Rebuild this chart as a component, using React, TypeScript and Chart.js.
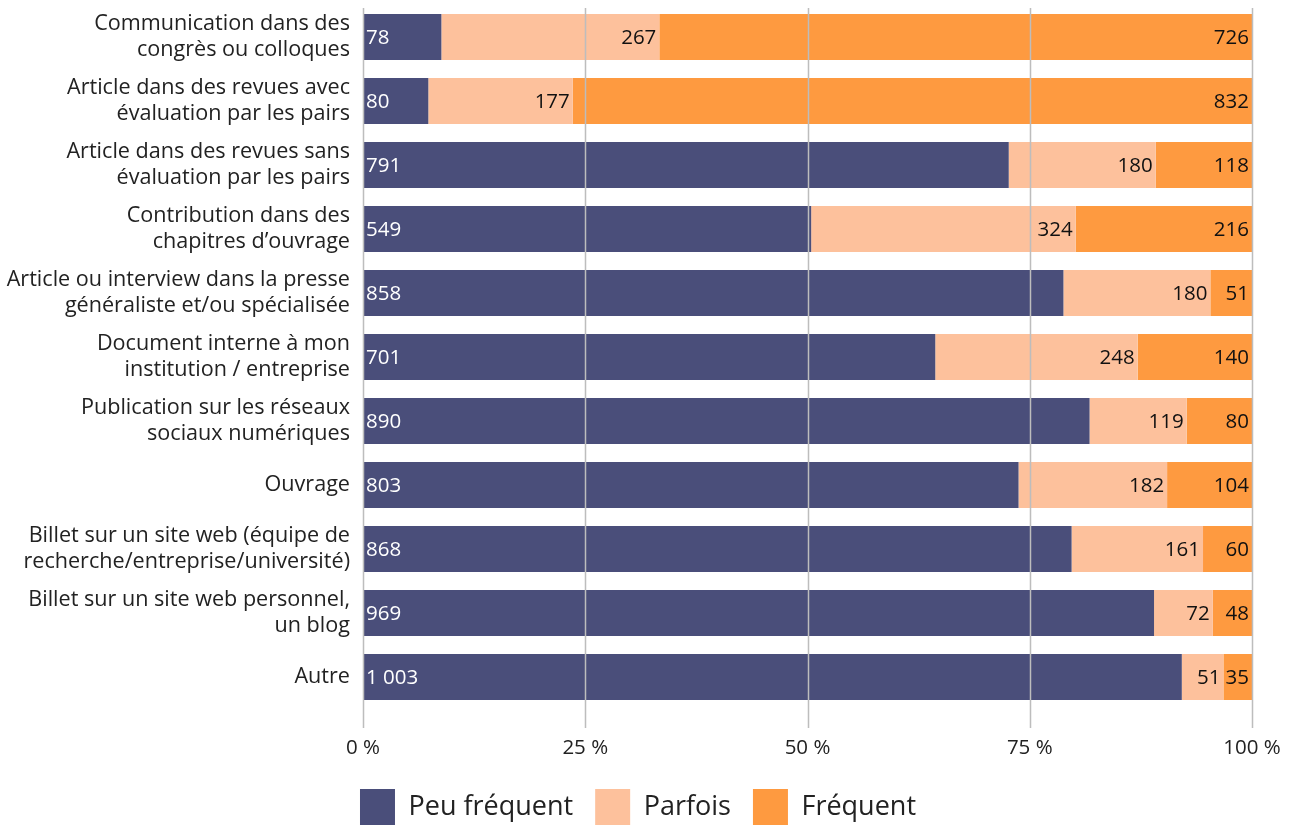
import React, { useEffect, useRef } from "react";
import { Chart, registerables } from "chart.js";

Chart.register(...registerables);

const categories: (string | string[])[] = [
  ["Communication dans des", "congrès ou colloques"],
  ["Article dans des revues avec", "évaluation par les pairs"],
  ["Article dans des revues sans", "évaluation par les pairs"],
  ["Contribution dans des", "chapitres d’ouvrage"],
  ["Article ou interview dans la presse", "généraliste et/ou spécialisée"],
  ["Document interne à mon", "institution / entreprise"],
  ["Publication sur les réseaux", "sociaux numériques"],
  "Ouvrage",
  ["Billet sur un site web (équipe de", "recherche/entreprise/université)"],
  ["Billet sur un site web personnel,", "un blog"],
  "Autre",
];

// Counts (bar lengths). First row's navy bar is drawn wider than its printed label.
const peuFrequent = [96, 80, 791, 549, 858, 701, 890, 803, 868, 969, 1003];
const parfois = [267, 177, 180, 324, 180, 248, 119, 182, 161, 72, 51];
const frequent = [726, 832, 118, 216, 51, 140, 80, 104, 60, 48, 35];
// Printed labels for "Peu fréquent"
const peuFrequentLabels = [78, 80, 791, 549, 858, 701, 890, 803, 868, 969, 1003];

const xTicks = [0, 25, 50, 75, 100];

const seriesNames = ["Peu fréquent", "Parfois", "Fréquent"];
const seriesColors = ["#4a4e7a", "#fdc19c", "#fe9a40"];

const FONT = "'Open Sans'";

const fmt = (n: number) => String(n).replace(/\B(?=(\d{3})+(?!\d))/g, " ");

export default function App() {
  const ref = useRef<HTMLCanvasElement | null>(null);

  useEffect(() => {
    document.body.style.margin = "0";
    const canvas = ref.current;
    if (!canvas) return;

    const totals = categories.map((_, i) => peuFrequent[i] + parfois[i] + frequent[i]);
    const raw = [peuFrequent, parfois, frequent];
    const shown = [peuFrequentLabels, parfois, frequent];

    const overlay = {
      id: "overlay",
      afterDatasetsDraw(chart: any) {
        const ctx = chart.ctx;
        const area = chart.chartArea;
        const xs = chart.scales.x;
        ctx.save();
        // grid lines over the bars
        ctx.strokeStyle = "#bdbdbd";
        ctx.lineWidth = 1.5;
        xTicks.forEach((t) => {
          const x = Math.round(xs.getPixelForValue(t)) + 0.5;
          ctx.beginPath();
          ctx.moveTo(x, area.top + 3);
          ctx.lineTo(x, area.bottom + 19);
          ctx.stroke();
        });
        // data labels
        ctx.font = `20.5px ${FONT}`;
        ctx.textBaseline = "middle";
        chart.data.datasets.forEach((ds: any, di: number) => {
          const meta = chart.getDatasetMeta(di);
          meta.data.forEach((el: any, i: number) => {
            const label = fmt(shown[di][i]);
            const start = Math.min(el.base, el.x);
            const end = Math.max(el.base, el.x);
            if (di === 0) {
              ctx.fillStyle = "#ffffff";
              ctx.textAlign = "left";
              ctx.fillText(label, start + 3, el.y + 1);
            } else {
              ctx.fillStyle = "#111111";
              ctx.textAlign = "right";
              ctx.fillText(label, end - 3, el.y + 1);
            }
          });
        });
        ctx.restore();
      },
    };

    const chart = new Chart(canvas, {
      type: "bar",
      data: {
        labels: categories,
        datasets: seriesNames.map((name, si) => ({
          label: name,
          data: raw[si].map((v, i) => (v / totals[i]) * 100),
          backgroundColor: seriesColors[si],
          borderWidth: 0,
          barPercentage: 0.72,
          categoryPercentage: 1,
        })),
      },
      options: {
        indexAxis: "y",
        animation: false,
        responsive: false,
        maintainAspectRatio: false,
        layout: { padding: { top: 5, right: 20, left: 0, bottom: -10 } },
        scales: {
          x: {
            stacked: true,
            min: 0,
            max: 100,
            afterBuildTicks: (scale: any) => {
              scale.ticks = xTicks.map((v) => ({ value: v }));
            },
            afterFit: (scale: any) => {
              scale.height = 58;
              scale.paddingLeft = 0;
              scale.paddingRight = 0;
            },
            grid: { display: false, drawTicks: false },
            border: { display: false },
            ticks: {
              padding: 27,
              color: "#222",
              font: { family: FONT, size: 20.5 },
              callback: (v: any) => `${v} %`,
              maxRotation: 0,
            },
          },
          y: {
            stacked: true,
            afterFit: (scale: any) => {
              scale.width = 363;
              scale.paddingTop = 0;
              scale.paddingBottom = 0;
            },
            grid: { display: false, drawTicks: false },
            border: { display: false },
            ticks: {
              padding: 13,
              color: "#222",
              font: { family: FONT, size: 21.6, lineHeight: 1.2 },
              autoSkip: false,
            },
          },
          yRight: {
            type: "category",
            position: "right",
            grid: { display: false, drawTicks: false },
            border: { display: false },
            ticks: { display: false },
            afterFit: (scale: any) => {
              scale.width = 24;
              scale.paddingTop = 0;
              scale.paddingBottom = 0;
            },
          },
        },
        plugins: {
          legend: {
            position: "bottom",
            labels: {
              boxWidth: 35,
              boxHeight: 36,
              padding: 22,
              color: "#222",
              font: { family: FONT, size: 27 },
            },
          },
          tooltip: { enabled: false },
        },
      },
      plugins: [overlay],
    } as any);

    return () => chart.destroy();
  }, []);

  return (
    <div style={{ width: 1296, height: 825 }}>
      <canvas ref={ref} width={1296} height={825} style={{ display: "block" }} />
    </div>
  );
}
